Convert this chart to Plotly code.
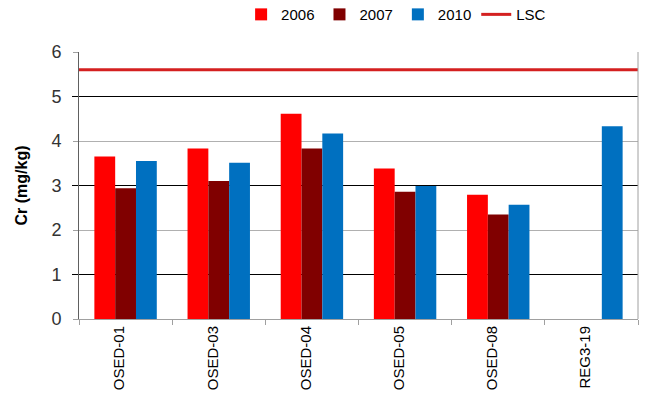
import plotly.graph_objs as go

# Data
stations = ['OSED-01', 'OSED-03', 'OSED-04', 'OSED-05', 'OSED-08', 'REG3-19']
cr_2006 = [3.65, 3.83, 4.61, 3.38, 2.79, None]
cr_2007 = [2.94, 3.10, 3.83, 2.86, 2.35, None]
cr_2010 = [3.55, 3.51, 4.17, 2.99, 2.57, 4.33]
lsc_value = 5.6

FONT = 'Liberation Sans, Arial, sans-serif'

fig = go.Figure()

# Bars per year
for name, vals, color in [('2006', cr_2006, '#FF0000'),
                          ('2007', cr_2007, '#800000'),
                          ('2010', cr_2010, '#0070C0')]:
    fig.add_trace(go.Bar(
        x=stations, y=vals, name=name,
        marker=dict(color=color, line=dict(width=0)),
    ))

# LSC guideline spans the whole plot, drawn on a hidden 0..1 x axis
fig.add_trace(go.Scatter(
    x=[0, 1], y=[lsc_value, lsc_value],
    mode='lines', name='LSC',
    line=dict(color='#D42020', width=3),
    xaxis='x2', yaxis='y',
))

# Alternating black gridlines at odd values via an overlay axis
fig.add_trace(go.Scatter(
    x=[None], y=[None], showlegend=False, hoverinfo='skip',
    xaxis='x', yaxis='y2',
))

fig.update_layout(
    width=645, height=417,
    plot_bgcolor='white',
    paper_bgcolor='white',
    font=dict(family=FONT, color='#000000'),
    barmode='group',
    bargap=0.33,
    bargroupgap=0,
    margin=dict(l=79, r=7, t=52, b=98, autoexpand=False),
    showlegend=True,
    legend=dict(
        orientation='h',
        x=0.29, xanchor='left',
        y=1.14, yanchor='middle',
        font=dict(size=15, family=FONT),
        traceorder='normal',
        itemwidth=30,
        tracegroupgap=0,
    ),
    xaxis=dict(
        type='category', automargin=False,
        showline=True, linecolor='#A0A0A0', linewidth=1,
        ticks='outside', tickson='boundaries', ticklen=5, tickcolor='#A0A0A0',
        tickangle=-90,
        tickfont=dict(size=15, family=FONT),
        ticklabelshift=-6,
        showgrid=False,
        mirror=False,
    ),
    xaxis2=dict(
        overlaying='x', range=[0, 1], visible=False, automargin=False,
    ),
    yaxis=dict(
        range=[0, 6], dtick=1, automargin=False,
        showline=True, linecolor='#606060', linewidth=1,
        ticks='outside', ticklen=5, tickcolor='#A0A0A0',
        gridcolor='#B0B0B0', gridwidth=1,
        zeroline=False,
        tickfont=dict(size=18, family=FONT, color='#333333'),
        ticklabelstandoff=8,
        title=dict(text='<b>Cr (mg/kg)</b>', font=dict(size=16, family=FONT),
                   standoff=19),
    ),
    yaxis2=dict(
        overlaying='y', range=[0, 6], automargin=False,
        tickvals=[1, 3, 5], showticklabels=False,
        ticks='outside', ticklen=6, tickcolor='#000000',
        showgrid=True, gridcolor='#000000', gridwidth=1,
        zeroline=False, side='left',
    ),
)

# right border of the plot area
fig.add_shape(type='line', xref='paper', yref='y', x0=1, x1=1, y0=0, y1=6,
              line=dict(color='#A0A0A0', width=1))

# drop the browser's default page margin so the figure sits at 0,0
fig.write_html("out.html", config={'displayModeBar': False},
               post_script="document.body.style.margin='0';")
